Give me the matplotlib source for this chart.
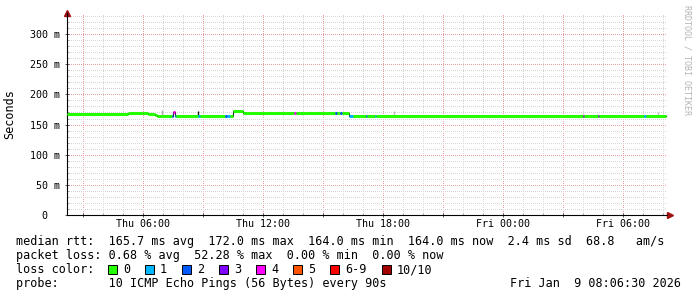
import matplotlib
matplotlib.use("Agg")
import matplotlib.pyplot as plt
from matplotlib.patches import Rectangle
from matplotlib.ticker import MultipleLocator

plt.rcParams['font.family'] = ['DejaVu Sans Mono']

# hours since Thu 00:00
t_start = 2.18
t_end = 32.18

# median rtt steps: start hour, value (ms), loss level index
seg_start = [2.18, 5.23, 5.98, 6.23, 6.58, 6.68, 6.83, 7.43, 7.50, 7.56, 7.63,
             8.73, 8.83, 10.06, 10.16, 10.31, 10.48, 10.98, 13.55, 13.63,
             15.58, 15.67, 15.83, 15.92, 16.28, 16.50, 17.13, 17.20, 17.58,
             17.62, 27.97, 28.03, 28.71, 28.78, 31.03, 31.13]
seg_end = seg_start[1:] + [32.12]
seg_value = [168.0, 169.5, 169.0, 167.0, 166.0, 165.0, 164.3, 164.3, 170.0, 164.3, 164.3,
             164.3, 164.3, 164.3, 164.3, 164.3, 172.0, 169.0, 169.0, 169.0,
             169.0, 169.0, 169.0, 169.0, 164.3, 164.3, 164.3, 164.3, 164.3,
             164.3, 164.3, 164.3, 164.3, 164.3, 164.3, 164.3]
seg_loss = [0, 0, 0, 0, 0, 0, 0, 2, 4, 1, 0,
            1, 0, 2, 1, 0, 0, 0, 4, 0,
            2, 0, 2, 0, 1, 0, 2, 0, 1,
            0, 3, 0, 3, 0, 1, 0]

# a few smoke traces
smoke_t = [6.95, 8.72, 18.53, 31.73]
smoke_lo = [164.3, 164.3, 166.0, 166.0]
smoke_hi = [174.0, 172.0, 173.0, 171.0]
smoke_col = ['#b0b0b0', '#1a1a1a', '#bdbdbd', '#bdbdbd']

loss_labels = ['0', '1', '2', '3', '4', '5', '6-9', '10/10']
loss_colors = ['#26ff00', '#00b8ff', '#0059ff', '#7e00ff', '#ff00ff',
               '#ff5500', '#ff0000', '#a10000']

xtick_pos = [3, 6, 9, 12, 15, 18, 21, 24, 27, 30]
xtick_lab = ['', 'Thu 06:00', '', 'Thu 12:00', '', 'Thu 18:00', '', 'Fri 00:00', '', 'Fri 06:00']
ytick_pos = [0, 50, 100, 150, 200, 250, 300]
ytick_lab = ['0  ', '50 m', '100 m', '150 m', '200 m', '250 m', '300 m']

legend_lines = [
    "median rtt:  165.7 ms avg  172.0 ms max  164.0 ms min  164.0 ms now  2.4 ms sd  68.8   am/s",
    "packet loss: 0.68 % avg  52.28 % max  0.00 % min  0.00 % now",
    "loss color:",
    "probe:       10 ICMP Echo Pings (56 Bytes) every 90s",
]
stamp = "Fri Jan  9 08:06:30 2026"

W, H = 697, 297
fig = plt.figure(figsize=(W / 100, H / 100), dpi=100)
fig.patch.set_facecolor('white')
ax = fig.add_axes([67 / W, (H - 215) / H, 600 / W, 202 / H])
ax.set_facecolor('white')

# smoke + thin dark median trace underneath
for t, lo, hi, c in zip(smoke_t, smoke_lo, smoke_hi, smoke_col):
    ax.plot([t, t], [lo, hi], color=c, lw=1.0, solid_capstyle='butt', zorder=2)

step_x = []
step_y = []
for s, e, v in zip(seg_start, seg_end, seg_value):
    step_x += [s, e]
    step_y += [v, v]
ax.plot(step_x, step_y, color='#202020', lw=0.8, zorder=3)

for s, e, v, l in zip(seg_start, seg_end, seg_value, seg_loss):
    ax.plot([s, e], [v, v], color=loss_colors[l], lw=2.2, solid_capstyle='butt', zorder=4)

ax.set_xlim(t_start, t_end)
ax.set_ylim(0, 335)
ax.set_xticks(xtick_pos)
ax.set_xticklabels(xtick_lab)
ax.xaxis.set_minor_locator(MultipleLocator(1))
ax.set_yticks(ytick_pos)
ax.set_yticklabels(ytick_lab)
ax.yaxis.set_minor_locator(MultipleLocator(10))

for sp in ['top', 'right']:
    ax.spines[sp].set_visible(False)
for sp in ['left', 'bottom']:
    ax.spines[sp].set_color('black')
    ax.spines[sp].set_linewidth(0.8)

ax.tick_params(which='major', direction='inout', length=3, width=0.6, color='#404040',
               labelsize=7.2, pad=1.5)
ax.tick_params(axis='y', which='major', pad=3.5)
ax.tick_params(which='minor', direction='in', length=1.5, width=0.5, color='#909090')

# rrdtool style dotted grid
dots = (0, (1, 1.4))
ax.grid(True, which='minor', color='#d6d6d6', lw=0.72, linestyle=dots, antialiased=False)
ax.grid(True, which='major', color='#eaa0a0', lw=0.72, linestyle=dots, antialiased=False)
ax.set_axisbelow(True)

# axis arrows
ax.plot([0], [1.0], marker='^', color='#a01010', ms=4, transform=ax.transAxes, clip_on=False)
ax.plot([1.005], [0], marker='>', color='#a01010', ms=4, transform=ax.transAxes, clip_on=False)

fig.text(10 / W, 1 - 114 / H, 'Seconds', rotation=90, ha='center', va='center', fontsize=8.5)
fig.text(687 / W, 1 - 60 / H, 'RRDTOOL / TOBI OETIKER', rotation=270, ha='center', va='center',
         fontsize=6, color='#b4b4b4')

baselines = [245.5, 259.3, 273.3, 287.3]
for txt, b in zip(legend_lines, baselines):
    fig.text(16 / W, 1 - b / H, txt, ha='left', va='baseline', fontsize=8.5)
fig.text(681 / W, 1 - baselines[3] / H, stamp, ha='right', va='baseline', fontsize=8.5)

box_x = [108, 145, 182, 219, 256, 293, 330, 382]
for bx, lab, col in zip(box_x, loss_labels, loss_colors):
    fig.patches.append(Rectangle((bx / W, 1 - 273.5 / H), 8.5 / W, 9 / H, transform=fig.transFigure,
                                 facecolor=col, edgecolor='black', lw=0.7))
    fig.text((bx + 15) / W, 1 - baselines[2] / H, lab, ha='left', va='baseline', fontsize=8.5)

fig.savefig('out.png', dpi=100)
